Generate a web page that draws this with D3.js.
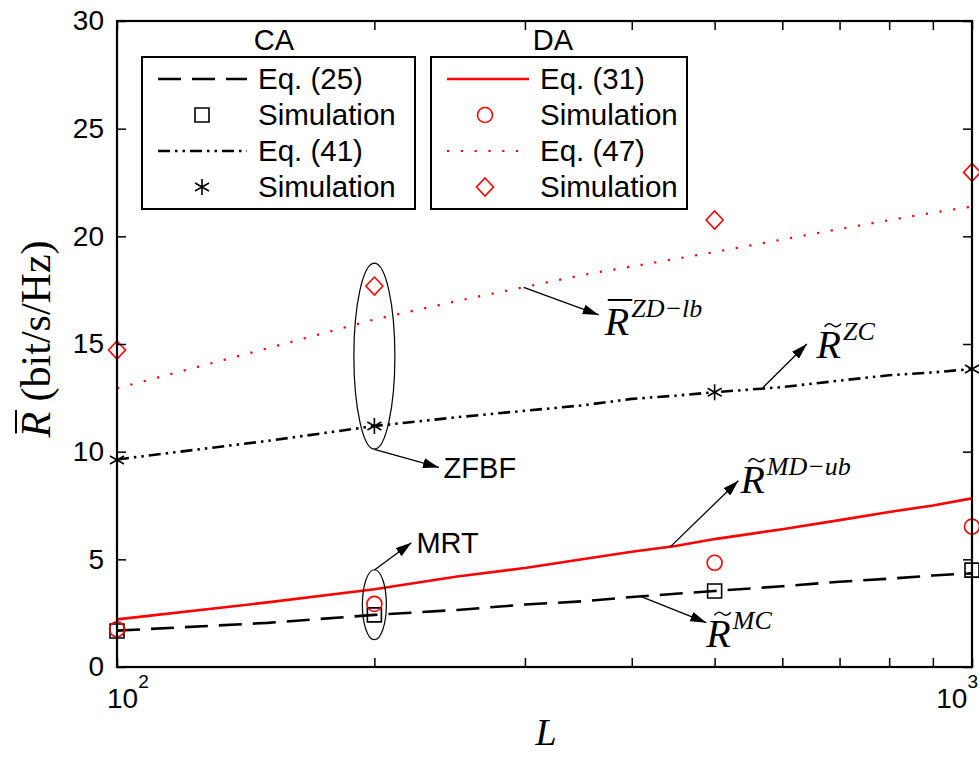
<!DOCTYPE html>
<html><head><meta charset="utf-8">
<script src="https://cdn.jsdelivr.net/npm/d3@7"></script>
<style>body{margin:0;background:#fff}</style>
</head><body><svg id="c" width="979" height="757"></svg>
<script>
// ---------- data ----------
const L = [100,150,200,250,300,350,400,450,500,600,700,800,900,1000];
const eq25 = [1.69,2.05,2.42,2.65,2.90,3.05,3.25,3.40,3.53,3.75,3.96,4.10,4.25,4.35];
const eq31 = [2.21,3.00,3.61,4.20,4.60,5.00,5.35,5.62,5.94,6.40,6.82,7.20,7.50,7.83];
const eq41 = [9.64,10.50,11.19,11.60,11.90,12.15,12.45,12.60,12.76,13.00,13.30,13.55,13.68,13.84];
const eq47 = [12.94,14.80,16.14,17.00,17.65,18.20,18.60,18.95,19.27,19.85,20.34,20.75,21.10,21.38];
const simL = [100,200,500,1000];
const simSquare = [1.67,2.42,3.53,4.50];
const simCircle = [1.75,2.93,4.84,6.52];
const simStar = [9.61,11.19,12.76,13.84];
const simDiamond = [14.72,17.69,20.76,22.97];
const yTicks = [0,5,10,15,20,25,30];
const xTicks = [100,200,300,400,500,600,700,800,900,1000];
const xTickLabels = [{v:100, base:"10", exp:"2"}, {v:1000, base:"10", exp:"3"}];
const legendCA = {title:"CA", items:[{label:"Eq. (25)", kind:"dash"},{label:"Simulation", kind:"square"},{label:"Eq. (41)", kind:"dashdot"},{label:"Simulation", kind:"star"}]};
const legendDA = {title:"DA", items:[{label:"Eq. (31)", kind:"solid"},{label:"Simulation", kind:"circle"},{label:"Eq. (47)", kind:"dot"},{label:"Simulation", kind:"diamond"}]};
const ellipses = [{L:200, v:2.89, rx:12, ry:35},{L:200, v:14.44, rx:20.5, ry:93}];
const arrows = [
  {from:[200,4.50], to:[221,5.77]},
  {from:[200,10.11], to:[238,9.27]},
  {from:[299,17.63], to:[366,16.35]},
  {from:[570,12.99], to:[641,15.0]},
  {from:[444,5.59], to:[533,8.65]},
  {from:[411,3.26], to:[489,2.06]}
];
const plainLabels = [{text:"MRT", L:224, v:5.28},{text:"ZFBF", L:241, v:8.76}];
const mathLabels = [
  {L:372, v:15.42, accent:"bar", sup:"ZD\u2212lb"},
  {L:658, v:14.34, accent:"tilde", sup:"ZC"},
  {L:536, v:8.07, accent:"tilde", sup:"MD\u2212ub"},
  {L:489, v:0.94, accent:"tilde", sup:"MC"}
];

// ---------- setup ----------
const svg = d3.select("#c");
const W = 979, H = 757;
const m = {left:117, top:21, right:7, bottom:90};
const x = d3.scaleLog().domain([100,1000]).range([m.left, W-m.right]);
const y = d3.scaleLinear().domain([0,30]).range([H-m.bottom, m.top]);
const SANS = "'Liberation Sans', Arial, sans-serif";
const SERIF = "'Liberation Serif', 'Times New Roman', serif";
const RED = "#ff0000";

const styles = {
  dash:    {stroke:"#000", width:2.6, dash:"23,11"},
  dashdot: {stroke:"#000", width:2.6, dash:"12,5,2.5,5,2.5,5"},
  solid:   {stroke:RED, width:2.6, dash:null},
  dot:     {stroke:RED, width:2.2, dash:"2.2,11.6"}
};

svg.append("defs").append("marker")
  .attr("id","ah").attr("markerUnits","userSpaceOnUse")
  .attr("viewBox","0 0 16 10").attr("refX",16).attr("refY",5)
  .attr("markerWidth",16).attr("markerHeight",10).attr("orient","auto")
  .append("path").attr("d","M0,0 L16,5 L0,10 Z").attr("fill","#000");

// ---------- lines ----------
const line = d3.line().x(d=>x(d[0])).y(d=>y(d[1]));
function drawSeries(vals, st){
  svg.append("path").datum(L.map((l,i)=>[l,vals[i]]))
    .attr("d",line).attr("fill","none")
    .attr("stroke",st.stroke).attr("stroke-width",st.width)
    .attr("stroke-dasharray",st.dash);
}
drawSeries(eq47, styles.dot);
drawSeries(eq41, styles.dashdot);
drawSeries(eq31, styles.solid);
drawSeries(eq25, styles.dash);

// ---------- markers ----------
function markerPath(kind){
  switch(kind){
    case "square": return "M-7,-7H7V7H-7Z";
    case "circle": return d3.symbol(d3.symbolCircle, Math.PI*7.5*7.5)();
    case "diamond": return "M0,-9L8.5,0L0,9L-8.5,0Z";
    case "star": return "M0,-8V8M-7,-4L7,4M-7,4L7,-4";
  }
}
function markerColor(kind){ return (kind==="circle"||kind==="diamond") ? RED : "#000"; }
function drawMarkers(vals, kind){
  svg.append("g").selectAll("path").data(simL.map((l,i)=>[l,vals[i]])).join("path")
    .attr("transform",d=>`translate(${x(d[0])},${y(d[1])})`)
    .attr("d",markerPath(kind)).attr("fill","none")
    .attr("stroke",markerColor(kind)).attr("stroke-width",1.6);
}
drawMarkers(simSquare,"square");
drawMarkers(simCircle,"circle");
drawMarkers(simStar,"star");
drawMarkers(simDiamond,"diamond");

// ---------- axes ----------
const gL = svg.append("g").attr("transform",`translate(${m.left},0)`)
  .call(d3.axisLeft(y).tickValues(yTicks).tickSize(-9).tickPadding(13).tickFormat(d3.format("d")));
const gR = svg.append("g").attr("transform",`translate(${W-m.right},0)`)
  .call(d3.axisRight(y).tickValues(yTicks).tickSize(-9).tickFormat(""));
const gB = svg.append("g").attr("transform",`translate(0,${H-m.bottom})`)
  .call(d3.axisBottom(x).tickValues(xTicks).tickSize(-9).tickFormat(""));
const gT = svg.append("g").attr("transform",`translate(0,${m.top})`)
  .call(d3.axisTop(x).tickValues(xTicks).tickSize(-9).tickFormat(""));
[gL,gR,gB,gT].forEach(g=>{
  g.select(".domain").remove();
  g.selectAll(".tick line").attr("stroke","#000").attr("stroke-width",1.5);
});
gL.selectAll(".tick text").attr("font-family",SANS).attr("font-size",28).attr("fill","#000");
svg.append("rect").attr("x",m.left).attr("y",m.top)
  .attr("width",W-m.left-m.right).attr("height",H-m.top-m.bottom)
  .attr("fill","none").attr("stroke","#000").attr("stroke-width",2.2);

// x tick labels (10^k)
xTickLabels.forEach((t,i)=>{
  const last = i===xTickLabels.length-1;
  const tx = svg.append("text").attr("font-family",SANS).attr("fill","#000")
    .attr("x", last ? x(t.v)+6 : x(t.v)-10).attr("y", 708)
    .attr("text-anchor", last ? "end" : "start");
  tx.append("tspan").attr("font-size",28).text(t.base);
  tx.append("tspan").attr("font-size",19).attr("dy",-20).text(t.exp);
});

// axis titles
svg.append("text").attr("x",546).attr("y",745)
  .attr("text-anchor","middle").attr("font-family",SERIF).attr("font-style","italic")
  .attr("font-size",38).text("L");
const yl = svg.append("g").attr("transform","translate(50,339) rotate(-90)");
const ylt = yl.append("text").attr("text-anchor","middle").attr("font-family",SERIF).attr("font-size",42);
ylt.append("tspan").attr("font-style","italic").text("R");
ylt.append("tspan").text(" (bit/s/Hz)");
{
  const e = ylt.node().getExtentOfChar(0);
  yl.append("line").attr("x1",e.x+4).attr("x2",e.x+e.width+2)
    .attr("y1",e.y+3).attr("y2",e.y+3).attr("stroke","#000").attr("stroke-width",2);
}

// ---------- annotations ----------
svg.append("g").selectAll("ellipse").data(ellipses).join("ellipse")
  .attr("cx",d=>x(d.L)).attr("cy",d=>y(d.v)).attr("rx",d=>d.rx).attr("ry",d=>d.ry)
  .attr("fill","none").attr("stroke","#000").attr("stroke-width",1.2);
svg.append("g").selectAll("line").data(arrows).join("line")
  .attr("x1",d=>x(d.from[0])).attr("y1",d=>y(d.from[1]))
  .attr("x2",d=>x(d.to[0])).attr("y2",d=>y(d.to[1]))
  .attr("stroke","#000").attr("stroke-width",1.3).attr("marker-end","url(#ah)");
svg.append("g").selectAll("text").data(plainLabels).join("text")
  .attr("x",d=>x(d.L)).attr("y",d=>y(d.v)).attr("font-family",SANS).attr("font-size",29)
  .text(d=>d.text);
mathLabels.forEach(d=>{
  const t = svg.append("text").attr("x",x(d.L)).attr("y",y(d.v))
    .attr("font-family",SERIF).attr("font-style","italic");
  t.append("tspan").attr("font-size",40).text("R");
  t.append("tspan").attr("font-size",26).attr("dx",2).attr("dy",-18).text(d.sup);
  const e = t.node().getExtentOfChar(0);
  const top = y(d.v) - 27;
  if(d.accent==="bar"){
    svg.append("line").attr("x1",e.x+3).attr("x2",e.x+e.width+3)
      .attr("y1",top-8).attr("y2",top-8).attr("stroke","#000").attr("stroke-width",2);
  } else {
    const a = e.x+8, w = e.width-8, b = top-6;
    svg.append("path").attr("d",`M${a},${b+1.5} Q${a+w*0.25},${b-3.5} ${a+w*0.5},${b} T${a+w},${b-1.5}`)
      .attr("fill","none").attr("stroke","#000").attr("stroke-width",1.5);
  }
});

// ---------- legends ----------
function drawLegend(leg, box, sample, markerX, textX, titleX){
  const g = svg.append("g");
  g.append("text").attr("x",titleX).attr("y",50).attr("text-anchor","middle")
    .attr("font-family",SANS).attr("font-size",29).text(leg.title);
  g.append("rect").attr("x",box[0]).attr("y",box[1]).attr("width",box[2]).attr("height",box[3])
    .attr("fill","#fff").attr("stroke","#000").attr("stroke-width",2);
  leg.items.forEach((it,i)=>{
    const ry = box[1] + 22 + i*36;
    if(styles[it.kind]){
      const st = styles[it.kind];
      g.append("line").attr("x1",sample[0]).attr("x2",sample[1]).attr("y1",ry).attr("y2",ry)
        .attr("stroke",st.stroke).attr("stroke-width",st.width).attr("stroke-dasharray",st.dash);
    } else {
      g.append("path").attr("transform",`translate(${markerX},${ry})`).attr("d",markerPath(it.kind))
        .attr("fill","none").attr("stroke",markerColor(it.kind)).attr("stroke-width",1.6);
    }
    g.append("text").attr("x",textX).attr("y",ry+10).attr("font-family",SANS)
      .attr("font-size",29.5).text(it.label);
  });
}
drawLegend(legendCA, [142,57,273,152], [158,247], 202, 258, 274);
drawLegend(legendDA, [431,57,256,152], [447,529], 485, 540, 553);
</script></body></html>
